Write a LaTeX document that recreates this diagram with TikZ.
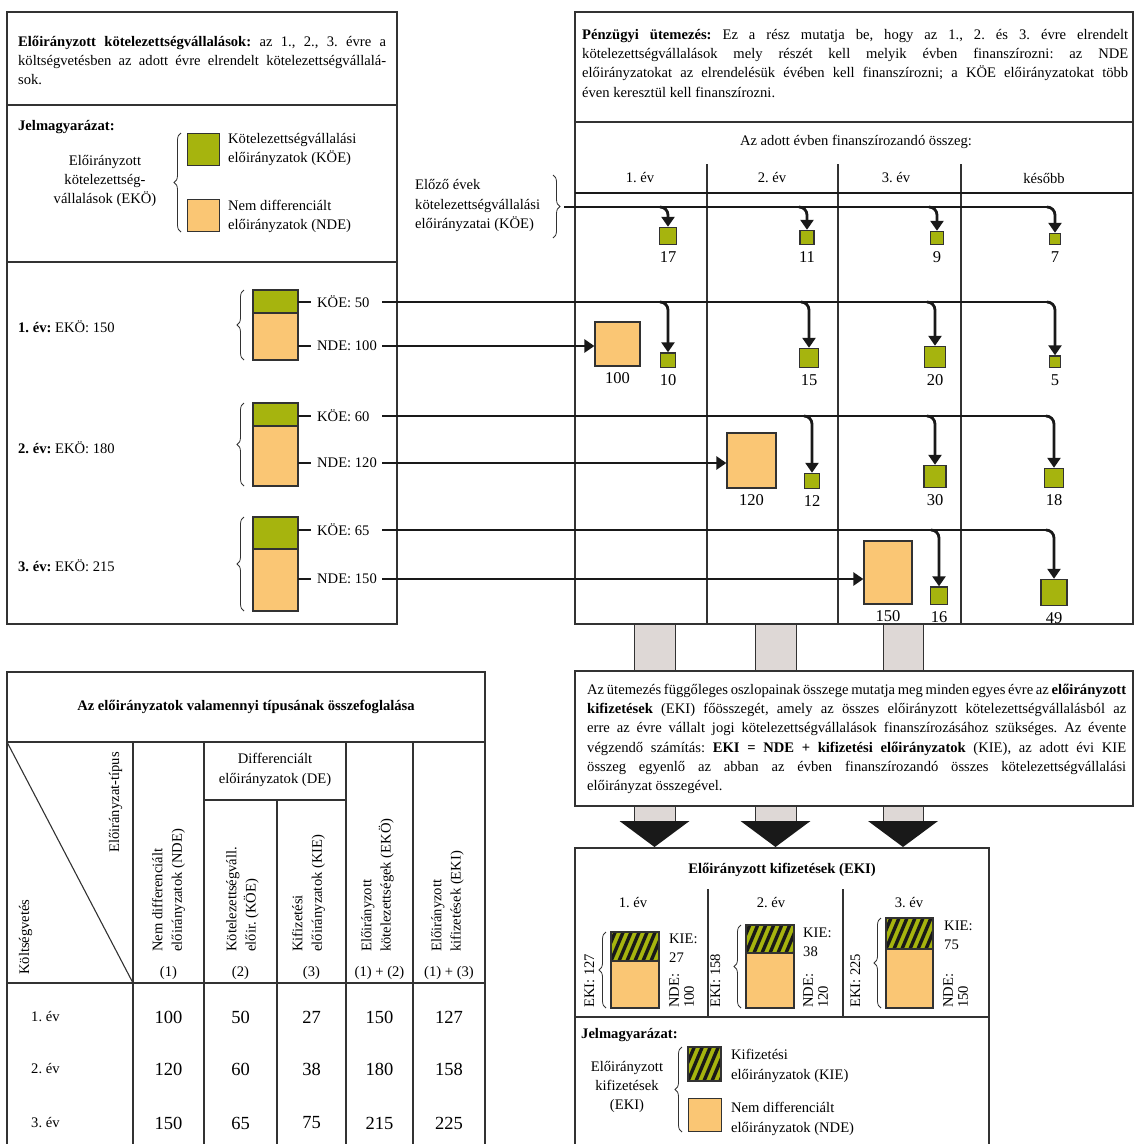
\documentclass[tikz,border=0pt]{standalone}
\usepackage{fontspec}
\setmainfont{Liberation Serif}
\usepackage{tikz}
\usetikzlibrary{arrows.meta, decorations.pathreplacing, calc}
\definecolor{koegreen}{RGB}{166, 180, 14}
\definecolor{ndeorange}{RGB}{250, 198, 116}
\definecolor{stubgray}{RGB}{222, 216, 214}
\definecolor{edge}{RGB}{50, 50, 50}
\definecolor{ink}{RGB}{25, 25, 25}
\newcommand{\bodyfont}{\fontsize{14.6}{19.3}\selectfont\frenchspacing}
\newcommand{\numfont}{\fontsize{16.5}{18}\selectfont}
\newcommand{\valfont}{\fontsize{18.5}{20}\selectfont}
\newcommand{\kiehatch}[4]{%
  \fill[koegreen] (#1,#2) rectangle (#3,#4);
  \begin{scope}
    \clip (#1,#2) rectangle (#3,#4);
    \foreach \s in {-24,-16,...,56}
      \draw[ink, line width=3.4pt] ({#1+\s},#4) -- ({#1+\s+0.42*(#4-#2)},#2);
  \end{scope}
  \draw[edge, line width=1.2pt] (#1,#2) rectangle (#3,#4);
}

\begin{document}
\begin{tikzpicture}[x=1pt, y=-1pt, font=\bodyfont,
  frame/.style={draw=edge, line width=1.4pt},
  trunk/.style={draw=ink, line width=2.8pt},
  flow/.style={draw=ink, line width=2.8pt, rounded corners=8pt, -{Triangle[length=10pt, width=13pt]}},
  koe/.style={draw=edge, fill=koegreen, line width=1.2pt, inner sep=0pt, minimum size=#1, anchor=south},
  nde/.style={draw=edge, fill=ndeorange, line width=1.2pt, inner sep=0pt},
  num/.style={font=\numfont, inner sep=0pt, below=6pt},
  lbl/.style={inner sep=0pt, anchor=west},
  rot/.style={inner sep=0pt, rotate=90},
  brace/.style={draw=edge, line width=0.8pt, decorate, decoration={brace, amplitude=7pt}},
  stub/.style={draw=edge, fill=stubgray, line width=1pt}]

  \useasboundingbox (0,0) rectangle (1134,1144);

  % elrendelt kotelezettsegvallalasok
  \draw[frame] (7,12) rectangle (397,624);
  \draw[frame] (7,105) -- (397,105);
  \draw[frame] (7,262) -- (397,262);

  \node[anchor=north west, inner sep=0pt, text width=368pt, align=justify] (ekohead) at (18,32.5)
    {\strut\textbf{Előirányzott kötelezettségvállalások:} az 1., 2., 3. évre a\linebreak
     költségvetésben az adott évre elrendelt kötelezettségvállalá-\linebreak sok.};

  \node[lbl] (leg1head) at (18,127) {\textbf{Jelmagyarázat:}};
  \node[align=center, inner sep=0pt] (leg1name) at (105,181) {Előirányzott\\kötelezettség-\\vállalások (EKÖ)};
  \draw[brace] (181,232) -- (181,133);
  \node[koe=32pt, anchor=north west] (leg1koe) at (187,133) {};
  \node[nde, minimum size=32pt, anchor=north west] (leg1nde) at (187,199) {};
  \node[lbl, align=left] (leg1koet) at (228,149.5) {Kötelezettségvállalási\\előirányzatok (KÖE)};
  \node[lbl, align=left] (leg1ndet) at (228,216.5) {Nem differenciált\\előirányzatok (NDE)};

  \foreach \yr/\eko/\koe/\nde/\ya/\yb/\yc/\ka/\na/\lab in
    {1/150/50/100/290/313/360/302/346/327,
     2/180/60/120/403/426/486/416/463/448,
     3/215/65/150/517/549/611/530/579/566} {
    \node[lbl] (year\yr) at (18,\lab) {\textbf{\yr. év:} EKÖ: \eko};
    \draw[brace] (244,\yc) -- (244,\ya);
    \draw[edge, line width=1.2pt, fill=koegreen] (253,\ya) rectangle (298,\yb);
    \draw[edge, line width=1.2pt, fill=ndeorange] (253,\yb) rectangle (298,\yc);
    \draw[ink, line width=2.4pt] (298,\ka) -- (311,\ka);
    \draw[ink, line width=2.4pt] (298,\na) -- (311,\na);
    \node[lbl] (koelab\yr) at (317,\ka) {KÖE: \koe};
    \node[lbl] (ndelab\yr) at (317,\na) {NDE: \nde};
    \coordinate (k\yr) at (382,\ka);
    \coordinate (n\yr) at (382,\na);
  }

  % penzugyi utemezes
  \draw[frame] (575,12) rectangle (1133,624);
  \draw[frame] (575,122) -- (1133,122);
  \node[anchor=north west, inner sep=0pt, text width=546pt, align=justify] (schedtext) at (582,25.5)
    {\strut\textbf{Pénzügyi ütemezés:} Ez a rész mutatja be, hogy az 1., 2. és 3. évre elrendelt\linebreak
     kötelezettségvállalások mely részét kell melyik évben finanszírozni: az NDE\linebreak
     előirányzatokat az elrendelésük évében kell finanszírozni; a KÖE előirányzatokat több\linebreak
     éven keresztül kell finanszírozni.};
  \node (schedhead) at (856,142) {Az adott évben finanszírozandó összeg:};
  \foreach \x/\txt [count=\yr] in {640/1. év, 772/2. év, 896/3. év, 1044/később}
    \node (col\yr) at (\x,178) {\txt};
  \foreach \x in {707,838,961}
    \draw[edge, line width=1.2pt] (\x,164) -- (\x,624);
  \draw[ink, line width=2.8pt] (575,193) -- (1133,193);

  \node[lbl, align=left] (prevtext) at (415,205.5) {Előző évek\\kötelezettségvállalási\\előirányzatai (KÖE)};
  \draw[brace] (553,175) -- (553,238);
  \coordinate (k0) at (564,207);

  \node[koe=17pt] (b17) at (668,245) {};
  \node[koe=14pt] (b11) at (807,245) {};
  \node[koe=13pt] (b9) at (937,245) {};
  \node[koe=11pt] (b7) at (1055,245) {};
  \draw[trunk] (k0) -- ($(b7.north |- k0)+(-8,0)$);
  \foreach \bv in {17,11,9,7} {
    \draw[flow] ($(b\bv.north |- k0)+(-8,0)$) -| (b\bv.north);
    \node[num] (l\bv) at (b\bv.south) {\bv};
  }

  \node[nde, minimum width=45pt, minimum height=44pt] (nde100) at (617.5,344) {};
  \draw[flow] (n1) -- (n1 -| nde100.west);
  \node[num] (l100) at (nde100.south) {100};
  \node[koe=14.5pt] (b10) at (668,368) {};
  \node[koe=19pt] (b15) at (809,368) {};
  \node[koe=21pt] (b20) at (935,368) {};
  \node[koe=11.5pt] (b5) at (1055,368) {};
  \draw[trunk] (k1) -- ($(b5.north |- k1)+(-8,0)$);
  \foreach \bv in {10,15,20,5} {
    \draw[flow] ($(b\bv.north |- k1)+(-8,0)$) -| (b\bv.north);
    \node[num] (l\bv) at (b\bv.south) {\bv};
  }

  \node[nde, minimum width=49pt, minimum height=55pt] (nde120) at (751.5,460.5) {};
  \draw[flow] (n2) -- (n2 -| nde120.west);
  \node[num] (l120) at (nde120.south) {120};
  \node[koe=15pt] (b12) at (812,489) {};
  \node[koe=22pt] (b30) at (935,488) {};
  \node[koe=19pt] (b18) at (1054,488) {};
  \draw[trunk] (k2) -- ($(b18.north |- k2)+(-8,0)$);
  \foreach \bv in {12,30,18} {
    \draw[flow] ($(b\bv.north |- k2)+(-8,0)$) -| (b\bv.north);
    \node[num] (l\bv) at (b\bv.south) {\bv};
  }

  \node[nde, minimum width=48pt, minimum height=63pt] (nde150) at (888,572.5) {};
  \draw[flow] (n3) -- (n3 -| nde150.west);
  \node[num] (l150) at (nde150.south) {150};
  \node[koe=17.5pt] (b16) at (939,605) {};
  \node[koe=26pt] (b49) at (1054,606) {};
  \draw[trunk] (k3) -- ($(b49.north |- k3)+(-8,0)$);
  \foreach \bv in {16,49} {
    \draw[flow] ($(b\bv.north |- k3)+(-8,0)$) -| (b\bv.north);
    \node[num] (l\bv) at (b\bv.south) {\bv};
  }

  % oszlopok osszege
  \foreach \xa/\xb in {634/675, 755/796, 883/923} {
    \draw[stub] (\xa,624) rectangle (\xb,671);
    \draw[stub] (\xa,806) rectangle (\xb,822);
    \fill[ink] ({(\xa+\xb)/2-35},821) -- ({(\xa+\xb)/2+35},821) -- ({(\xa+\xb)/2},847) -- cycle;
  }
  \draw[frame] (575,671) rectangle (1133,806);
  \node[anchor=north west, inner sep=0pt, text width=539pt, align=justify] (ekitext) at (587,680.5)
    {\strut Az ütemezés függőleges oszlopainak összege mutatja meg minden egyes évre az \textbf{előirányzott}\linebreak
     \textbf{kifizetések} (EKI) főösszegét, amely az összes előirányzott kötelezettségvállalásból az\linebreak
     erre az évre vállalt jogi kötelezettségvállalások finanszírozásához szükséges. Az évente\linebreak
     végzendő számítás: \textbf{EKI = NDE + kifizetési előirányzatok} (KIE), az adott évi KIE\linebreak
     összeg egyenlő az abban az évben finanszírozandó összes kötelezettségvállalási\linebreak
     előirányzat összegével.};

  % eloiranyzott kifizetesek
  \draw[frame] (575,848) rectangle (989,1160);
  \node[font=\bodyfont\bfseries] (ekihead) at (782,870) {Előirányzott kifizetések (EKI)};
  \draw[edge, line width=1.2pt] (708,889) -- (708,1017);
  \draw[edge, line width=1.2pt] (843,889) -- (843,1017);
  \draw[frame] (575,1017) -- (989,1017);

  \foreach \yr/\xl/\xr/\yh/\ys/\cx/\eki/\kie/\nde/\bx/\ex/\kx/\ky/\nx in
    {1/611/659/932/961/633/127/27/100/606/594/669/948/669,
     2/746/794/925/953/771/158/38/120/741/720/803/942/803,
     3/886/933/918/949/909/225/75/150/881/860/944/935/943} {
    \node (ekiyear\yr) at (\cx,903) {\yr. év};
    \kiehatch{\xl}{\yh}{\xr}{\ys}
    \draw[edge, line width=1.2pt, fill=ndeorange] (\xl,\ys) rectangle (\xr,1008);
    \draw[brace] (\bx,1008) -- (\bx,\yh);
    \node[rot, anchor=base west] (ekisum\yr) at (\ex,1008) {EKI: \eki};
    \node[lbl, align=left] (kielab\yr) at (\kx,\ky) {KIE:\\\kie};
    \node[rot, anchor=north west, align=left, font=\fontsize{14.6}{15}\selectfont] (ekinde\yr) at (\nx,1008) {NDE:\\\nde};
  }

  \node[lbl] (leg2head) at (581,1035) {\textbf{Jelmagyarázat:}};
  \node[align=center, inner sep=0pt] (leg2name) at (627,1087) {Előirányzott\\kifizetések\\(EKI)};
  \draw[brace] (682,1132) -- (682,1047);
  \kiehatch{688}{1047}{721}{1081}
  \node[nde, minimum size=33pt, anchor=north west] (leg2nde) at (688,1098) {};
  \node[lbl, align=left] (leg2kiet) at (731,1066) {Kifizetési\\előirányzatok (KIE)};
  \node[lbl, align=left] (leg2ndet) at (731,1119) {Nem differenciált\\előirányzatok (NDE)};

  % osszefoglalo tablazat
  \draw[frame] (7,672) rectangle (485,1160);
  \draw[frame] (7,742) -- (485,742);
  \draw[frame] (7,983) -- (485,983);
  \foreach \x in {133,204,346,413}
    \draw[frame] (\x,742) -- (\x,1160);
  \draw[frame] (277,800) -- (277,1160);
  \draw[frame] (204,800) -- (346,800);
  \draw[edge, line width=1.1pt] (7,742) -- (133,983);

  \node[font=\bodyfont\bfseries] (sumhead) at (246,707) {Az előirányzatok valamennyi típusának összefoglalása};
  \node[rot, anchor=base east] (typehead) at (119,752) {Előirányzat-típus};
  \node[rot, anchor=base west] (budhead) at (29,975) {Költségvetés};
  \node[align=center, inner sep=0pt] (dehead) at (275,770) {Differenciált\\előirányzatok (DE)};
  \foreach \x/\txt/\cx/\idx [count=\yr] in
    {152/{Nem differenciált\\előirányzatok (NDE)}/168.5/(1),
     226/{Kötelezettségváll.\\előir. (KÖE)}/240.5/(2),
     292/{Kifizetési\\előirányzatok (KIE)}/311.5/(3),
     361/{Előirányzott\\kötelezettségek (EKÖ)}/379.5/(1) + (2),
     431/{Előirányzott\\kifizetések (EKI)}/449/(1) + (3)} {
    \node[rot, anchor=north west, align=left] (colhead\yr) at (\x,952) {\txt};
    \node (colno\yr) at (\cx,973) {\idx};
  }

  \foreach \rw/\y/\va/\vb/\vc/\vd/\ve in
    {1/1017/100/50/27/150/127,
     2/1069/120/60/38/180/158,
     3/1123/150/65/75/215/225} {
    \node[lbl] (row\rw) at (31,\y) {\rw. év};
    \node[font=\valfont] (val\rw-1) at (168.5,\y) {\va};
    \node[font=\valfont] (val\rw-2) at (240.5,\y) {\vb};
    \node[font=\valfont] (val\rw-3) at (311.5,\y) {\vc};
    \node[font=\valfont] (val\rw-4) at (379.5,\y) {\vd};
    \node[font=\valfont] (val\rw-5) at (449,\y) {\ve};
  }

\end{tikzpicture}
\end{document}
